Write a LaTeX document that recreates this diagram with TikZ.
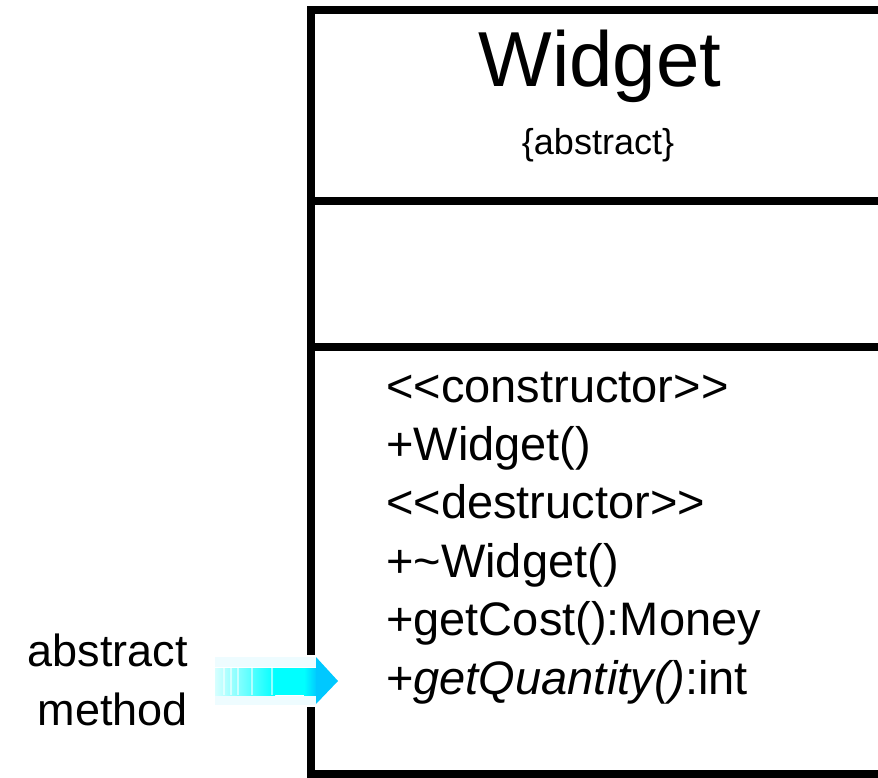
\documentclass[tikz,border=0pt]{standalone}
\usepackage{fontspec}
\setmainfont{Liberation Sans}
\definecolor{headcyan}{RGB}{0,200,255}
\definecolor{lightcyan}{RGB}{215,255,255}
\definecolor{midcyan}{RGB}{0,255,255}
\definecolor{faintcyan}{RGB}{238,252,255}
\begin{document}
\begin{tikzpicture}[x=1pt,y=-1pt,
  boxline/.style={line width=8.5pt,line join=miter},
  meth/.style={anchor=base west,inner sep=0pt,font=\fontsize{47}{56}\selectfont},
  note/.style={anchor=base east,inner sep=0pt,font=\fontsize{45}{54}\selectfont}]
\useasboundingbox (0,0) rectangle (878,778);
% class box
\coordinate (tl) at (311,10);
\coordinate (tr) at (890,10);
\coordinate (bl) at (311,774);
\coordinate (br) at (890,774);
\coordinate (d1l) at (311,201);
\coordinate (d1r) at (890,201);
\coordinate (d2l) at (311,347);
\coordinate (d2r) at (890,347);
\draw[boxline] (tr) -- (tl) -- (bl) -- (br);
\draw[boxline] (d1l) -- (d1r);
\draw[boxline] (d2l) -- (d2r);
% title
\node[anchor=base,inner sep=0pt,font=\fontsize{78}{90}\selectfont] (title) at (600,87) {Widget};
\node[anchor=base,inner sep=0pt,font=\fontsize{36}{42}\selectfont] (stereo) at (598,155) {\{abstract\}};
% methods
\node[meth] (m1) at (386,402) {<\kern0pt<constructor>\kern0pt>};
\node[meth] (m2) at (386,460) {+Widget()};
\node[meth] (m3) at (386,518) {<\kern0pt<destructor>\kern0pt>};
\node[meth] (m4) at (386,577) {+\textasciitilde Widget()};
\node[meth] (m5) at (386,635) {+getCost():Money};
\node[meth] (m6) at (386,694) {+\textit{getQuantity()}:int};
% note
\node[note] (n1) at (188,666) {abstract};
\node[note] (n2) at (188,725) {method};
% arrow
\coordinate (abody) at (215,668);
\coordinate (atip) at (338,681);
\fill[white] (215,655) rectangle (340,707);
\fill[faintcyan] (215,657) rectangle (316,667);
\fill[faintcyan] (215,696) rectangle (316,705);
\shade[left color=lightcyan,right color=midcyan] (abody) rectangle (275,695);
\fill[midcyan] (274,668) rectangle (305,695);
\shade[left color=midcyan,right color=headcyan] (304,668) rectangle (317,695);
\foreach \sx in {224,231,238,252,272}{
  \draw[white,opacity=0.55,line width=1.2pt] (\sx,668) -- (\sx,695);
}
\fill[headcyan] (316,657) -- (atip) -- (316,704) -- cycle;
\end{tikzpicture}
\end{document}
